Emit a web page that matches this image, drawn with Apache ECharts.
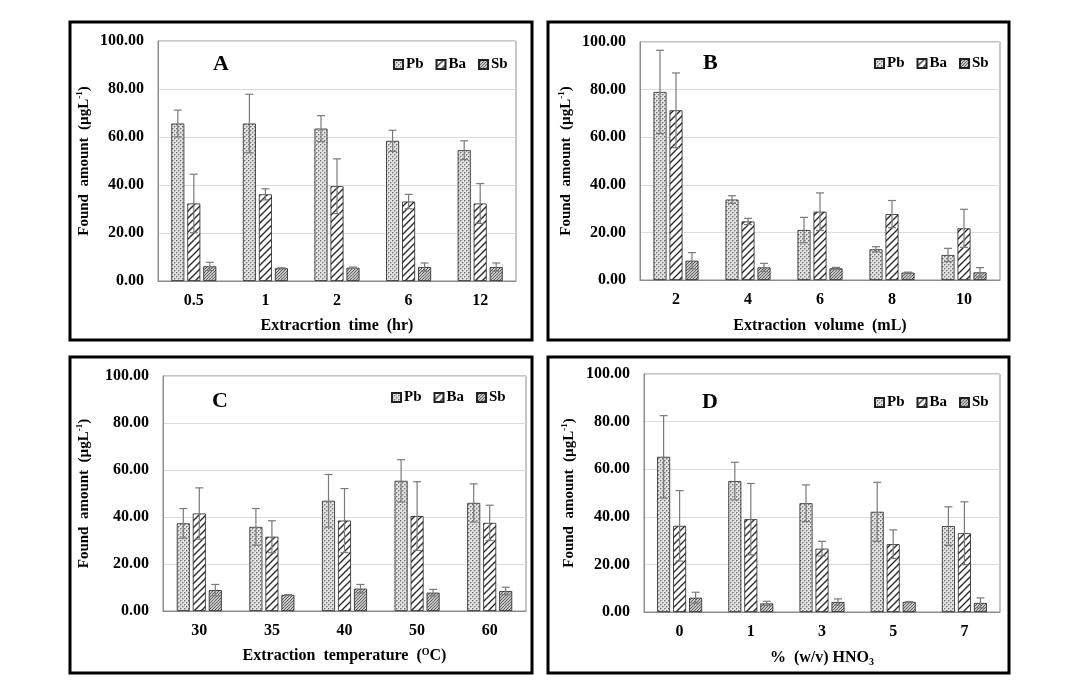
<!DOCTYPE html>
<html>
<head>
<meta charset="utf-8">
<script src="https://cdn.jsdelivr.net/npm/echarts@6/dist/echarts.min.js"></script>
<style>html,body{margin:0;padding:0;background:#fff;}#c{width:1080px;height:700px;}</style>
</head>
<body>
<div id="c"></div>
<script>
// ---- Data ----
const seriesNames = ['Pb', 'Ba', 'Sb'];
const yTicks = [0, 20, 40, 60, 80, 100];

const catA = ['0.5', '1', '2', '6', '12'];
const pbA = [65.6, 65.6, 63.5, 58.4, 54.5];
const pbErrA = [5.6, 12.2, 5.4, 4.4, 3.9];
const baA = [32.3, 36.1, 39.5, 33.1, 32.3];
const baErrA = [12.2, 2.3, 11.4, 3.0, 8.3];
const sbA = [6.1, 5.3, 5.5, 5.8, 5.8];
const sbErrA = [1.7, 0.2, 0.3, 1.7, 1.7];

const catB = ['2', '4', '6', '8', '10'];
const pbB = [79.0, 33.8, 21.0, 12.9, 10.5];
const pbErrB = [17.5, 1.6, 5.3, 1.1, 2.8];
const baB = [71.3, 24.6, 28.7, 27.7, 21.7];
const baErrB = [15.7, 1.3, 7.9, 5.7, 8.0];
const sbB = [8.1, 5.3, 4.9, 3.1, 3.2];
const sbErrB = [3.4, 1.7, 0.4, 0.2, 2.0];

const catC = ['30', '35', '40', '50', '60'];
const pbC = [37.3, 35.8, 46.9, 55.4, 46.0];
const pbErrC = [6.3, 7.8, 11.2, 9.0, 8.1];
const baC = [41.5, 31.6, 38.5, 40.4, 37.5];
const baErrC = [10.9, 6.8, 13.6, 14.6, 7.5];
const sbC = [8.9, 6.8, 9.5, 7.8, 8.5];
const sbErrC = [2.4, 0.2, 1.8, 1.4, 1.6];

const catD = ['0', '1', '3', '5', '7'];
const pbD = [65.2, 55.0, 45.7, 42.1, 36.1];
const pbErrD = [17.3, 7.9, 7.7, 12.4, 8.1];
const baD = [36.2, 39.0, 26.6, 28.5, 33.1];
const baErrD = [14.8, 15.0, 3.1, 6.0, 13.2];
const sbD = [6.0, 3.6, 4.2, 4.2, 3.8];
const sbErrD = [2.3, 0.9, 1.3, 0.2, 2.1];

const panelLetters = ['A', 'B', 'C', 'D'];
const yName = 'Found  amount  (µgL';
const xNames = [
  'Extracrtion  time  (hr)',
  'Extraction  volume  (mL)',
  'Extraction  temperature  ({sup|O}C)',
  '%  (w/v) HNO{sub|3}'
];

// ---- Patterns ----
function tile(w, h, draw) {
  const c = document.createElement('canvas');
  c.width = w; c.height = h;
  draw(c.getContext('2d'));
  return { image: c, repeat: 'repeat' };
}
const patPb = tile(4, 4, g => {
  g.fillStyle = '#e4e4e4'; g.fillRect(0, 0, 4, 4);
  g.fillStyle = '#6e6e6e';
  g.fillRect(0, 0, 1, 1); g.fillRect(2, 2, 1, 1);
  g.fillStyle = '#b0b0b0';
  g.fillRect(1, 0, 1, 1); g.fillRect(0, 1, 1, 1); g.fillRect(3, 2, 1, 1); g.fillRect(2, 3, 1, 1);
});
const patBa = tile(7, 7, g => {
  g.fillStyle = '#ffffff'; g.fillRect(0, 0, 7, 7);
  g.strokeStyle = '#2a2a2a'; g.lineWidth = 1.4;
  g.beginPath();
  g.moveTo(-1, 8); g.lineTo(8, -1);
  g.moveTo(-1, 1); g.lineTo(1, -1);
  g.moveTo(6, 8); g.lineTo(8, 6);
  g.stroke();
});
const patSb = tile(3, 3, g => {
  g.fillStyle = '#c8c8c8'; g.fillRect(0, 0, 3, 3);
  g.strokeStyle = '#505050'; g.lineWidth = 0.9;
  g.beginPath();
  g.moveTo(-1, 4); g.lineTo(4, -1);
  g.stroke();
});
const patterns = [patPb, patBa, patSb];

// ---- Layout ----
const grids = [
  { left: 158, top: 41, width: 358, height: 240 },
  { left: 640, top: 42, width: 360, height: 238 },
  { left: 163, top: 376, width: 363, height: 235 },
  { left: 644, top: 374, width: 356, height: 238 }
];
const boxes = [
  { x: 70, y: 22, width: 462, height: 318 },
  { x: 548, y: 22, width: 461, height: 318 },
  { x: 70, y: 357, width: 462, height: 316 },
  { x: 548, y: 357, width: 461, height: 316 }
];
const legendPos = [
  { left: 388, top: 52 },
  { left: 869, top: 51 },
  { left: 386, top: 385 },
  { left: 869, top: 390 }
];
const letterPos = [
  { left: 208, top: 48 },
  { left: 698, top: 47 },
  { left: 207, top: 385 },
  { left: 697, top: 386 }
];
const yNameGap = [65, 65, 70, 66];
const xNameGap = [36, 37, 36, 37];

const panels = [
  { cat: catA, vals: [pbA, baA, sbA], errs: [pbErrA, baErrA, sbErrA] },
  { cat: catB, vals: [pbB, baB, sbB], errs: [pbErrB, baErrB, sbErrB] },
  { cat: catC, vals: [pbC, baC, sbC], errs: [pbErrC, baErrC, sbErrC] },
  { cat: catD, vals: [pbD, baD, sbD], errs: [pbErrD, baErrD, sbErrD] }
];

const FONT = "'Liberation Serif', 'Times New Roman', serif";
const BAR_W = 13, BAR_GAP = 3;

const option = {
  animation: false,
  backgroundColor: '#fff',
  title: [], legend: [], grid: [], xAxis: [], yAxis: [], series: [],
  graphic: boxes.map(b => ({
    type: 'rect', shape: b,
    style: { fill: 'none', stroke: '#000', lineWidth: 3 }, z: 100
  }))
};

panels.forEach((p, i) => {
  option.grid.push(Object.assign({ show: true, borderColor: '#8c8c8c', borderWidth: 1, backgroundColor: 'transparent' }, grids[i]));
  option.title.push({
    text: panelLetters[i], left: letterPos[i].left, top: letterPos[i].top,
    textStyle: { fontFamily: FONT, fontWeight: 'bold', fontSize: 22, color: '#000' }
  });
  option.legend.push({
    data: seriesNames, left: legendPos[i].left, top: legendPos[i].top,
    orient: 'horizontal', icon: 'rect', itemWidth: 9, itemHeight: 9, itemGap: 12,
    textStyle: { fontFamily: FONT, fontWeight: 'bold', fontSize: 15, color: '#000', padding: [0, 0, 0, -2] },
    selectedMode: false
  });
  option.xAxis.push({
    type: 'category', gridIndex: i, data: p.cat,
    axisLine: { show: true, lineStyle: { color: '#8c8c8c', width: 1 } },
    axisTick: { show: false },
    axisLabel: { fontFamily: FONT, fontWeight: 'bold', fontSize: 16, color: '#000', margin: 12 },
    name: xNames[i], nameLocation: 'middle', nameGap: xNameGap[i],
    nameTextStyle: {
      fontFamily: FONT, fontWeight: 'bold', fontSize: 16, color: '#000', lineHeight: 18,
      rich: {
        sup: { fontFamily: FONT, fontWeight: 'bold', fontSize: 10, color: '#000', verticalAlign: 'top', lineHeight: 18 },
        sub: { fontFamily: FONT, fontWeight: 'bold', fontSize: 10, color: '#000', verticalAlign: 'bottom', lineHeight: 18 }
      }
    }
  });
  option.yAxis.push({
    type: 'value', gridIndex: i, min: yTicks[0], max: yTicks[yTicks.length - 1], interval: yTicks[1] - yTicks[0],
    axisLine: { show: true, lineStyle: { color: '#8c8c8c', width: 1 } },
    axisTick: { show: false },
    splitLine: { show: true, lineStyle: { color: '#dcdcdc', width: 1 } },
    axisLabel: { fontFamily: FONT, fontWeight: 'bold', fontSize: 16, color: '#000', margin: 14, formatter: v => v.toFixed(2) },
    name: '{n|' + yName + '}{s|-1}{n|)}', nameLocation: 'middle', nameGap: yNameGap[i], nameRotate: 90,
    nameTextStyle: {
      rich: {
        n: { fontFamily: FONT, fontWeight: 'bold', fontSize: 15, color: '#000', lineHeight: 18 },
        s: { fontFamily: FONT, fontWeight: 'bold', fontSize: 9, color: '#000', verticalAlign: 'top', lineHeight: 18 }
      }
    }
  });
  seriesNames.forEach((nm, k) => {
    option.series.push({
      type: 'bar', name: nm, xAxisIndex: i, yAxisIndex: i, data: p.vals[k],
      barWidth: BAR_W, barGap: (BAR_GAP / BAR_W * 100).toFixed(1) + '%',
      itemStyle: { color: patterns[k], borderColor: '#222', borderWidth: 0.8 },
      z: 2
    });
  });
  const errData = [];
  seriesNames.forEach((nm, k) => {
    p.vals[k].forEach((v, j) => errData.push([j, v, p.errs[k][j], k]));
  });
  option.series.push({
    type: 'custom', xAxisIndex: i, yAxisIndex: i, data: errData, z: 5,
    encode: { x: 0, y: 1 },
    renderItem: (params, api) => {
      const j = api.value(0), v = api.value(1), e = api.value(2), k = api.value(3);
      const off = (k - 1) * (BAR_W + BAR_GAP);
      const top = api.coord([j, v + e]);
      const bot = api.coord([j, Math.max(0, v - e)]);
      const x = top[0] + off;
      const cap = 4;
      const st = { stroke: '#7a7a7a', lineWidth: 1.2, fill: null };
      return {
        type: 'group', children: [
          { type: 'line', shape: { x1: x, y1: top[1], x2: x, y2: bot[1] }, style: st },
          { type: 'line', shape: { x1: x - cap, y1: top[1], x2: x + cap, y2: top[1] }, style: st },
          { type: 'line', shape: { x1: x - cap, y1: bot[1], x2: x + cap, y2: bot[1] }, style: st }
        ]
      };
    }
  });
});

const chart = echarts.init(document.getElementById('c'));
chart.setOption(option);
</script>
</body>
</html>
